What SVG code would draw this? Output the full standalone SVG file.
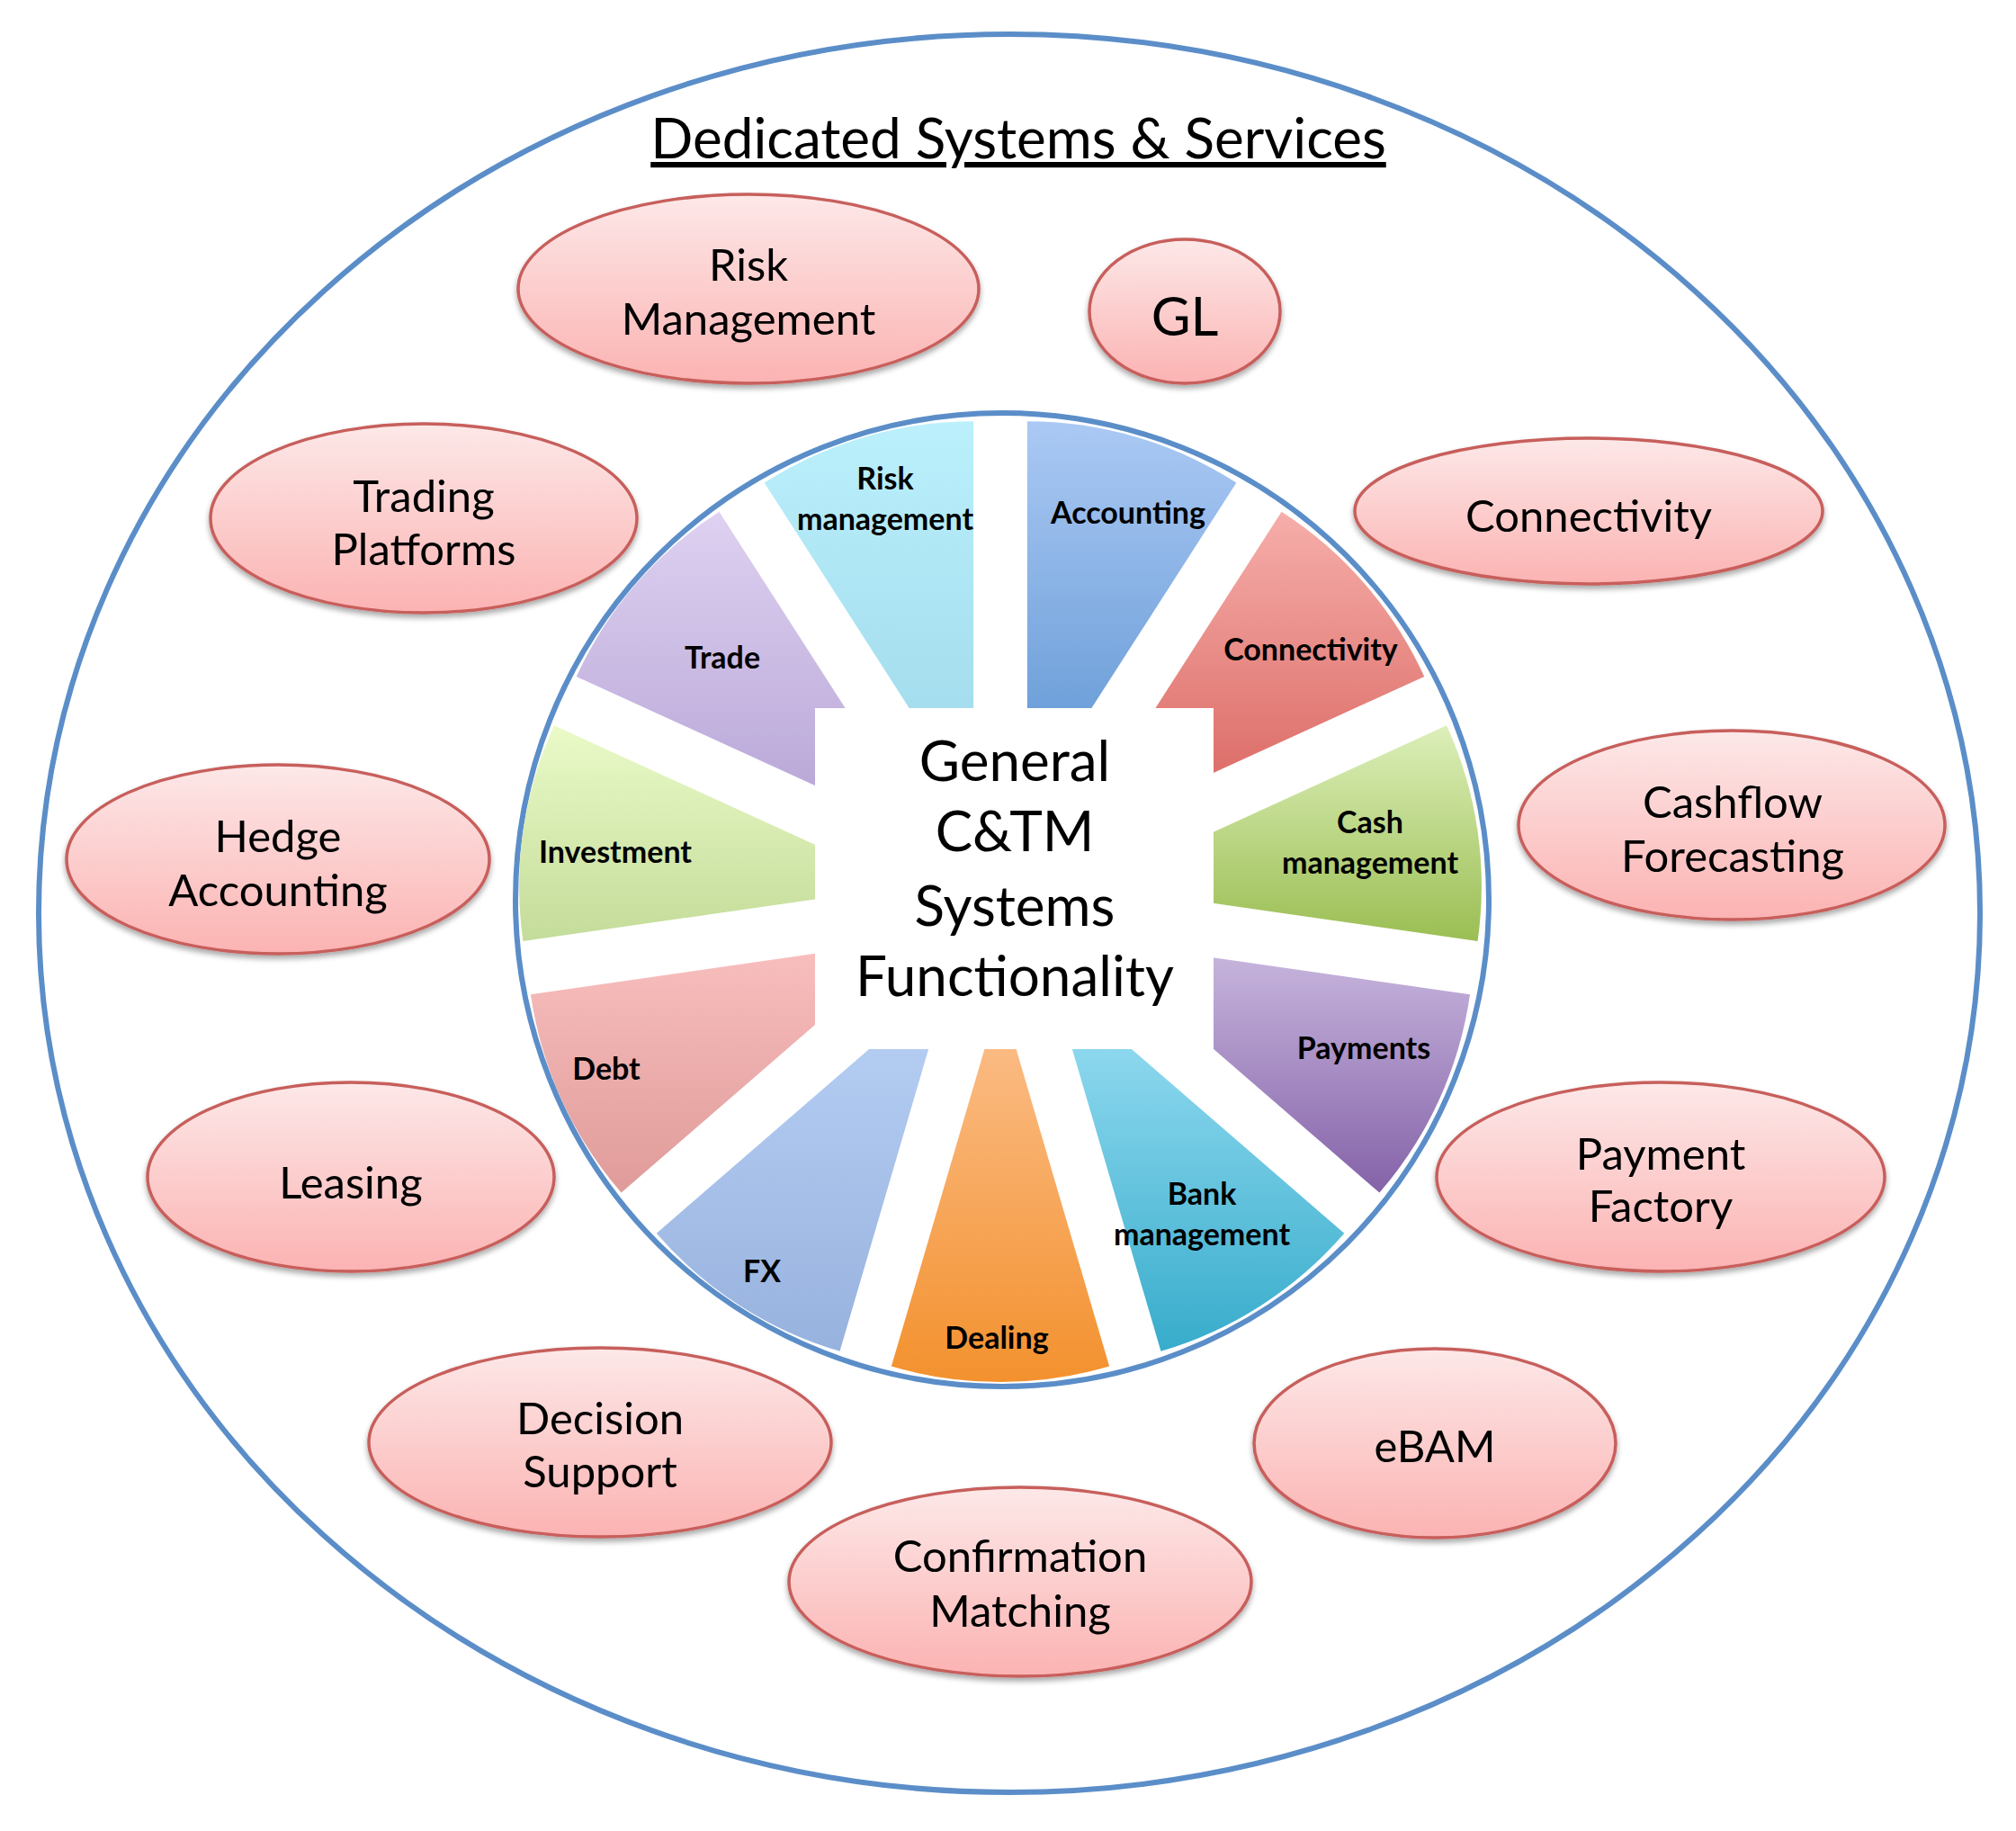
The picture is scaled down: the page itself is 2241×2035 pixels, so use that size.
<svg xmlns="http://www.w3.org/2000/svg" width="2241" height="2035" viewBox="0 0 2241 2035">
<defs>
<linearGradient id="gPink" x1="0" y1="0" x2="0" y2="1"><stop offset="0" stop-color="#fde8e8"/><stop offset="1" stop-color="#fbb3b2"/></linearGradient>
<linearGradient id="g0" x1="0" y1="0" x2="0" y2="1"><stop offset="0" stop-color="#abc9f4"/><stop offset="1" stop-color="#5b93d1"/></linearGradient>
<linearGradient id="g1" x1="0" y1="0" x2="0" y2="1"><stop offset="0" stop-color="#f6aeaa"/><stop offset="1" stop-color="#d75f5a"/></linearGradient>
<linearGradient id="g2" x1="0" y1="0" x2="0" y2="1"><stop offset="0" stop-color="#dcefb9"/><stop offset="1" stop-color="#9bbe53"/></linearGradient>
<linearGradient id="g3" x1="0" y1="0" x2="0" y2="1"><stop offset="0" stop-color="#cbbae0"/><stop offset="1" stop-color="#8462a8"/></linearGradient>
<linearGradient id="g4" x1="0" y1="0" x2="0" y2="1"><stop offset="0" stop-color="#9fe1f6"/><stop offset="1" stop-color="#37accb"/></linearGradient>
<linearGradient id="g5" x1="0" y1="0" x2="0" y2="1"><stop offset="0" stop-color="#fcc190"/><stop offset="1" stop-color="#f3912e"/></linearGradient>
<linearGradient id="g6" x1="0" y1="0" x2="0" y2="1"><stop offset="0" stop-color="#bad2f6"/><stop offset="1" stop-color="#97b2de"/></linearGradient>
<linearGradient id="g7" x1="0" y1="0" x2="0" y2="1"><stop offset="0" stop-color="#f9c0bf"/><stop offset="1" stop-color="#df9b99"/></linearGradient>
<linearGradient id="g8" x1="0" y1="0" x2="0" y2="1"><stop offset="0" stop-color="#eafac8"/><stop offset="1" stop-color="#c4dc9a"/></linearGradient>
<linearGradient id="g9" x1="0" y1="0" x2="0" y2="1"><stop offset="0" stop-color="#ded1f1"/><stop offset="1" stop-color="#b4a2d4"/></linearGradient>
<linearGradient id="g10" x1="0" y1="0" x2="0" y2="1"><stop offset="0" stop-color="#bbf0fc"/><stop offset="1" stop-color="#9dd7e9"/></linearGradient>
<filter id="shadow" x="-10%" y="-10%" width="120%" height="130%">
<feGaussianBlur in="SourceAlpha" stdDeviation="3"/>
<feOffset dx="0" dy="4" result="b"/>
<feComponentTransfer><feFuncA type="linear" slope="0.35"/></feComponentTransfer>
<feMerge><feMergeNode/><feMergeNode in="SourceGraphic"/></feMerge>
</filter>
</defs>
<style>
.outer{fill:none;stroke:#5b8ec8;stroke-width:6}
.inner{fill:#ffffff;stroke:#5b8ec8;stroke-width:6}
.oval{fill:url(#gPink);stroke:#c75e5b;stroke-width:3.5;filter:url(#shadow)}
.lbl{font-family:Lato,"Liberation Sans",sans-serif;font-size:49px;fill:#000;text-anchor:middle}
.wl{font-family:Lato,"Liberation Sans",sans-serif;font-weight:bold;font-size:34px;fill:#000;text-anchor:middle}
.ctr{font-family:Lato,"Liberation Sans",sans-serif;font-size:62px;fill:#000;text-anchor:middle}
.title{font-family:Lato,"Liberation Sans",sans-serif;font-size:62px;fill:#000;text-anchor:middle;text-decoration:underline}
</style>
<rect width="2241" height="2035" fill="#ffffff"/>
<g id="outer-boundary">
<ellipse class="outer" cx="1122" cy="1015" rx="1079" ry="977"/>
<text class="title" x="1132" y="176">Dedicated Systems &amp; Services</text>
</g>
<g id="connectors"/>
<g id="node-risk-management"><ellipse class="oval" cx="832" cy="321" rx="256" ry="105"/><text class="lbl" x="832" y="312">Risk</text><text class="lbl" x="832" y="372">Management</text></g>
<g id="node-gl"><ellipse class="oval" cx="1317" cy="346" rx="106" ry="80"/><text class="lbl" x="1317" y="373" style="font-size:60px">GL</text></g>
<g id="node-trading-platforms"><ellipse class="oval" cx="471" cy="576" rx="237" ry="105"/><text class="lbl" x="471" y="569">Trading</text><text class="lbl" x="471" y="628">Platforms</text></g>
<g id="node-connectivity"><ellipse class="oval" cx="1766" cy="568" rx="260" ry="81"/><text class="lbl" x="1766" y="591">Connectivity</text></g>
<g id="node-hedge-accounting"><ellipse class="oval" cx="309" cy="955" rx="235" ry="105"/><text class="lbl" x="309" y="947">Hedge</text><text class="lbl" x="309" y="1007">Accounting</text></g>
<g id="node-cashflow-forecasting"><ellipse class="oval" cx="1925" cy="917" rx="237" ry="105"/><text class="lbl" x="1926" y="909">Cashflow</text><text class="lbl" x="1926" y="969">Forecasting</text></g>
<g id="node-leasing"><ellipse class="oval" cx="390" cy="1308" rx="226" ry="105"/><text class="lbl" x="390" y="1332">Leasing</text></g>
<g id="node-payment-factory"><ellipse class="oval" cx="1846" cy="1308" rx="249" ry="105"/><text class="lbl" x="1846" y="1300">Payment</text><text class="lbl" x="1846" y="1358">Factory</text></g>
<g id="node-decision-support"><ellipse class="oval" cx="667" cy="1603" rx="257" ry="105"/><text class="lbl" x="667" y="1594">Decision</text><text class="lbl" x="667" y="1653">Support</text></g>
<g id="node-ebam"><ellipse class="oval" cx="1595" cy="1604" rx="201" ry="105"/><text class="lbl" x="1595" y="1625">eBAM</text></g>
<g id="node-confirmation-matching"><ellipse class="oval" cx="1134" cy="1758" rx="257" ry="105"/><text class="lbl" x="1134" y="1747">Confirmation</text><text class="lbl" x="1134" y="1808">Matching</text></g>
<g id="node-general-ctm">
<circle class="inner" cx="1114" cy="1000" r="541"/>
<g id="wedge-accounting"><path fill="url(#g0)" d="M1141.86,898.29 L1141.86,468.29 A430,430 0 0 1 1374.34,536.55 Z"/><text class="wl" x="1254" y="582">Accounting</text></g>
<g id="wedge-connectivity"><path fill="url(#g1)" d="M1192.11,930.58 L1424.59,568.84 A430,430 0 0 1 1583.25,751.95 Z"/><text class="wl" x="1457" y="734">Connectivity</text></g>
<g id="wedge-cash-management"><path fill="url(#g2)" d="M1216.92,984.92 L1608.06,806.29 A430,430 0 0 1 1642.54,1046.11 Z"/><text class="wl" x="1523" y="926">Cash</text><text class="wl" x="1523" y="971">management</text></g>
<g id="wedge-payments"><path fill="url(#g3)" d="M1208.42,1044.03 L1634.04,1105.22 A430,430 0 0 1 1533.39,1325.62 Z"/><text class="wl" x="1516" y="1177">Payments</text></g>
<g id="wedge-bank-management"><path fill="url(#g4)" d="M1169.31,1089.17 L1494.28,1370.76 A430,430 0 0 1 1290.45,1501.75 Z"/><text class="wl" x="1336" y="1339">Bank</text><text class="wl" x="1336" y="1384">management</text></g>
<g id="wedge-dealing"><path fill="url(#g5)" d="M1112,1106 L1233.14,1518.58 A430,430 0 0 1 990.86,1518.58 Z"/><text class="wl" x="1108" y="1499">Dealing</text></g>
<g id="wedge-fx"><path fill="url(#g6)" d="M1054.69,1089.17 L933.55,1501.75 A430,430 0 0 1 729.72,1370.76 Z"/><text class="wl" x="847" y="1425">FX</text></g>
<g id="wedge-debt"><path fill="url(#g7)" d="M1015.58,1044.03 L690.61,1325.62 A430,430 0 0 1 589.96,1105.22 Z"/><text class="wl" x="674" y="1200">Debt</text></g>
<g id="wedge-investment"><path fill="url(#g8)" d="M1007.08,984.92 L581.46,1046.11 A430,430 0 0 1 615.94,806.29 Z"/><text class="wl" x="684" y="959">Investment</text></g>
<g id="wedge-trade"><path fill="url(#g9)" d="M1031.89,930.58 L640.75,751.95 A430,430 0 0 1 799.41,568.84 Z"/><text class="wl" x="803" y="743">Trade</text></g>
<g id="wedge-risk-management"><path fill="url(#g10)" d="M1082.14,898.29 L849.66,536.55 A430,430 0 0 1 1082.14,468.29 Z"/><text class="wl" x="984" y="544">Risk</text><text class="wl" x="984" y="589">management</text></g>
<rect x="906" y="787" width="443" height="379" fill="#ffffff"/>
<text class="ctr" x="1128" y="868">General</text>
<text class="ctr" x="1128" y="946">C&amp;TM</text>
<text class="ctr" x="1128" y="1029">Systems</text>
<text class="ctr" x="1128" y="1107">Functionality</text>
</g>
</svg>
